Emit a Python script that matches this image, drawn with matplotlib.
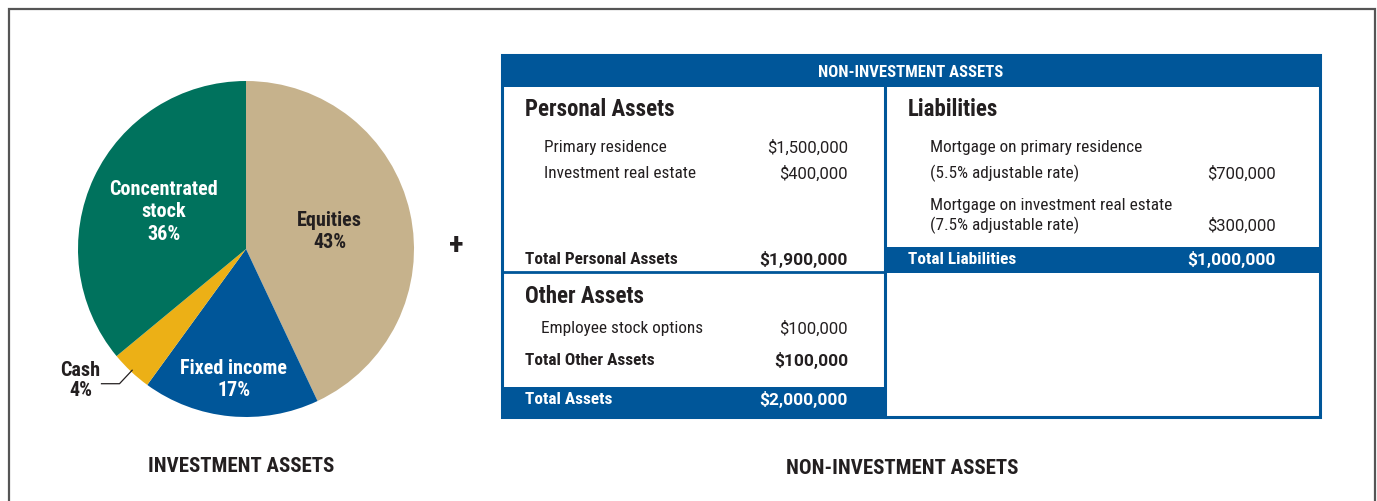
import matplotlib

matplotlib.use("Agg")

import numpy as np
import matplotlib.pyplot as plt
from matplotlib.patches import Rectangle


# pie data
pie_labels = ["Equities", "Fixed income", "Cash", "Concentrated\nstock"]
pie_shares = [43, 17, 4, 36]
pie_colors = ["#c6b28c", "#005699", "#ecb016", "#00725d"]
pie_text_colors = ["#231f20", "white", "#231f20", "white"]

# non-investment table data
personal_items = ["Primary residence", "Investment real estate"]
personal_values = [1_500_000, 400_000]
other_items = ["Employee stock options"]
other_values = [100_000]
liability_items = [
    "Mortgage on primary residence\n(5.5% adjustable rate)",
    "Mortgage on investment real estate\n(7.5% adjustable rate)",
]
liability_values = [700_000, 300_000]

BLUE = "#005699"
INK = "#231f20"
W, H = 1377, 501
NUM_FONT = ["Roboto", "Liberation Sans", "DejaVu Sans"]

ITEM = 12.4
HEAD = 16.5


def money(v):
    return f"${v:,}"


def setup_style():
    plt.rcParams.update(
        {
            "font.family": ["Roboto Condensed", "Liberation Sans", "DejaVu Sans"],
            "text.color": INK,
        }
    )


def draw_pie(fig):
    cx, cy, r = 246, 249, 168
    ax = fig.add_axes([(cx - r) / W, (H - cy - r) / H, 2 * r / W, 2 * r / H])
    wedges, _ = ax.pie(
        pie_shares,
        colors=pie_colors,
        startangle=90,
        counterclock=False,
        radius=1.0,
        wedgeprops=dict(linewidth=0),
    )
    ax.set_xlim(-1, 1)
    ax.set_ylim(-1, 1)
    ax.set_aspect("auto")
    ax.axis("off")

    label_r = {"Equities": 0.51, "Fixed income": 0.77, "Concentrated\nstock": 0.54}
    for w, lab, share, tc in zip(wedges, pie_labels, pie_shares, pie_text_colors):
        mid = np.deg2rad((w.theta1 + w.theta2) / 2)
        text = f"{lab}\n{share}%"
        if lab in label_r:
            rr = label_r[lab]
            ax.text(rr * np.cos(mid), rr * np.sin(mid) - 1.5 / r, text, ha="center",
                    va="center", color=tc, fontsize=14.5, fontweight="bold",
                    linespacing=1.22)
        else:
            # leader line for the small slice
            x0, y0 = 0.99 * np.cos(mid), 0.99 * np.sin(mid)
            x1, y1 = 1.10 * np.cos(mid), 1.10 * np.sin(mid)
            x2 = x1 - 18 / r
            ax.plot([x0, x1, x2], [y0, y1, y1], color=INK, lw=0.9, clip_on=False)
            ax.text(x2 - 1 / r, y1 + 3 / r, text, ha="right", va="center", color=tc,
                    fontsize=14.5, fontweight="bold", linespacing=1.1, clip_on=False,
                    multialignment="center")


def label(ax, x, y, s, size=ITEM, bold=False, color=INK):
    ax.text(x, y + 1.5, s, fontsize=size, fontweight="bold" if bold else "normal",
            va="center", color=color)


def value(ax, x, y, v, bold=False, color=INK):
    ax.text(x, y + 1.5, money(v), fontsize=12.5 if bold else 12,
            fontweight="bold" if bold else "normal", va="center", ha="right",
            color=color, family=NUM_FONT)


def draw_table(ax):
    left, mid, right = 502, 885, 1320
    top, head_bot, bottom = 55, 87, 417

    # header band
    ax.add_patch(Rectangle((left, top), right - left, head_bot - top, color=BLUE, lw=0))
    ax.text((left + right) / 2, (top + head_bot) / 2 + 1.5, "NON-INVESTMENT ASSETS",
            ha="center", va="center", color="white", fontsize=12, fontweight="bold")

    # outer frame and dividers
    ax.add_patch(Rectangle((left, top), right - left, bottom - top, fill=False,
                           edgecolor=BLUE, lw=2.2))
    ax.plot([mid, mid], [head_bot, bottom], color=BLUE, lw=2.2)
    ax.plot([left, mid], [272, 272], color=BLUE, lw=2.0)

    # total bands
    ax.add_patch(Rectangle((left, 387), mid - left, bottom - 387, color=BLUE, lw=0))
    ax.add_patch(Rectangle((mid, 247), right - mid, 273 - 247, color=BLUE, lw=0))

    lx, lind, lval = 525, 544, 848
    rx, rind, rval = 908, 930, 1276

    # Personal assets
    label(ax, lx, 108, "Personal Assets", size=HEAD, bold=True)
    for i, (name, v) in enumerate(zip(personal_items, personal_values)):
        y = 146 + 26 * i
        label(ax, lind, y, name)
        value(ax, lval, y, v)
    label(ax, lx, 258, "Total Personal Assets", bold=True)
    value(ax, lval, 258, sum(personal_values), bold=True)

    # Other assets
    label(ax, lx, 295, "Other Assets", size=HEAD, bold=True)
    for i, (name, v) in enumerate(zip(other_items, other_values)):
        y = 327 + 26 * i
        label(ax, 541, y, name)
        value(ax, lval, y, v)
    label(ax, lx, 359, "Total Other Assets", bold=True)
    value(ax, lval, 359, sum(other_values), bold=True)

    total_assets = sum(personal_values) + sum(other_values)
    label(ax, lx, 398, "Total Assets", bold=True, color="white")
    value(ax, lval, 398, total_assets, bold=True, color="white")

    # Liabilities
    label(ax, rx, 108, "Liabilities", size=HEAD, bold=True)
    line_rows = [(146, 172), (204, 224)]
    for (y1, y2), name, v in zip(line_rows, liability_items, liability_values):
        a, b = name.split("\n")
        label(ax, rind, y1, a)
        label(ax, rind, y2, b)
        value(ax, rval, y2, v)
    label(ax, rx, 258, "Total Liabilities", bold=True, color="white")
    value(ax, rval, 258, sum(liability_values), bold=True, color="white")


def main():
    setup_style()
    fig = plt.figure(figsize=(W / 100, H / 100), dpi=100)
    ax = fig.add_axes([0, 0, 1, 1])
    ax.set_xlim(0, W)
    ax.set_ylim(H, 0)
    ax.axis("off")

    # outer frame (open at the bottom)
    ax.plot([9, 9, 1375, 1375], [H + 5, 9, 9, H + 5], color="#555555", lw=1.6,
            solid_joinstyle="miter")

    draw_table(ax)
    ax.text(456, 245, "+", fontsize=22, fontweight="bold", ha="center", va="center")
    ax.text(241, 467, "INVESTMENT ASSETS", fontsize=15, fontweight="bold",
            ha="center", va="center")
    ax.text(902, 468, "NON-INVESTMENT ASSETS", fontsize=15, fontweight="bold",
            ha="center", va="center")

    draw_pie(fig)
    fig.savefig("out.png", dpi=100)


if __name__ == "__main__":
    main()
